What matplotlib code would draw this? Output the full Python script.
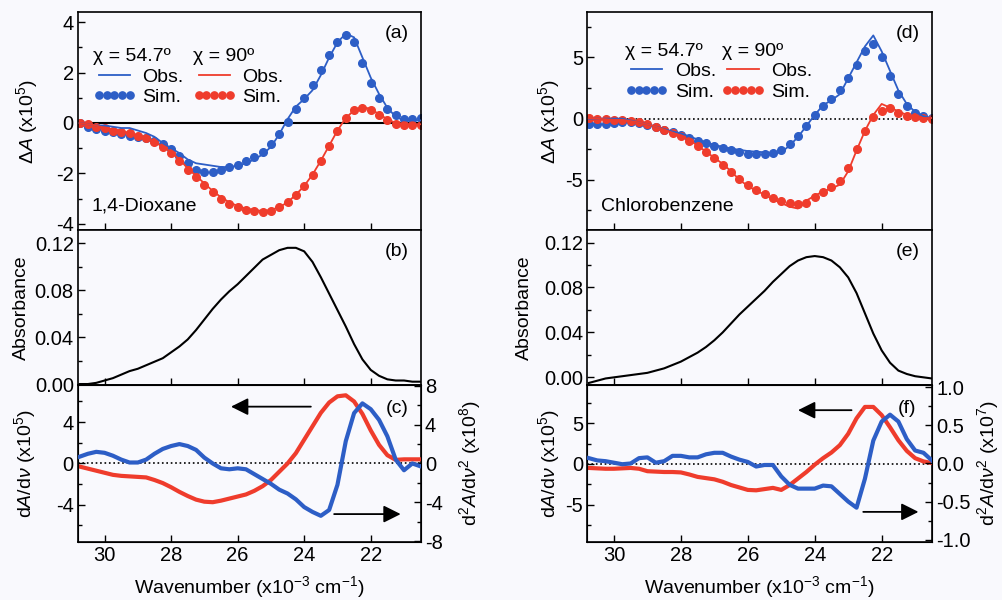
import matplotlib
matplotlib.use("Agg")
import matplotlib.pyplot as plt
from matplotlib.ticker import MultipleLocator, AutoMinorLocator, FormatStrFormatter

plt.rcParams["font.family"] = ["Liberation Sans", "DejaVu Sans"]
plt.rcParams["mathtext.fontset"] = "custom"
plt.rcParams["mathtext.rm"] = "Liberation Sans"
plt.rcParams["mathtext.it"] = "Liberation Sans:italic"
plt.rcParams["axes.unicode_minus"] = False

BLUE = "#2d5ec6"
RED = "#ef3c2c"
BG = "#f9f9fd"

# wavenumber grid (x10^3 cm^-1)
wn = [30.75, 30.5, 30.25, 30.0, 29.75, 29.5, 29.25, 29.0, 28.75, 28.5, 28.25,
      28.0, 27.75, 27.5, 27.25, 27.0, 26.75, 26.5, 26.25, 26.0, 25.75, 25.5,
      25.25, 25.0, 24.75, 24.5, 24.25, 24.0, 23.75, 23.5, 23.25, 23.0, 22.75,
      22.5, 22.25, 22.0, 21.75, 21.5, 21.25, 21.0, 20.75, 20.5]

# (a) 1,4-Dioxane, dA x10^5
diox_obs_547 = [0.0, -0.05, -0.1, -0.1, -0.15, -0.2, -0.2, -0.3, -0.4, -0.55, -0.8,
                -1.0, -1.2, -1.45, -1.6, -1.65, -1.7, -1.75, -1.75, -1.7, -1.6, -1.45,
                -1.25, -0.95, -0.45, 0.15, 0.65, 0.95, 1.3, 1.9, 2.6, 3.2, 3.55,
                3.4, 2.6, 1.8, 1.15, 0.6, 0.25, 0.1, 0.1, 0.1]
diox_sim_547 = [0.0, -0.15, -0.25, -0.3, -0.35, -0.45, -0.5, -0.55, -0.6, -0.7, -0.85,
                -1.05, -1.3, -1.6, -1.85, -1.95, -1.95, -1.85, -1.75, -1.65, -1.5, -1.35,
                -1.15, -0.85, -0.45, 0.05, 0.55, 1.0, 1.5, 2.1, 2.7, 3.2, 3.5,
                3.2, 2.4, 1.6, 1.0, 0.55, 0.3, 0.15, 0.15, 0.2]
diox_obs_90 = [0.0, -0.05, -0.1, -0.2, -0.25, -0.3, -0.4, -0.5, -0.6, -0.75, -0.95,
               -1.15, -1.45, -1.8, -2.1, -2.4, -2.7, -2.95, -3.15, -3.3, -3.4, -3.45,
               -3.5, -3.45, -3.35, -3.15, -2.85, -2.5, -2.05, -1.5, -0.9, -0.3, 0.2,
               0.5, 0.65, 0.55, 0.35, 0.15, 0.0, -0.05, -0.05, -0.05]
diox_sim_90 = [0.0, -0.05, -0.15, -0.2, -0.3, -0.35, -0.4, -0.5, -0.6, -0.75, -0.95,
               -1.2, -1.5, -1.85, -2.15, -2.45, -2.75, -3.0, -3.2, -3.35, -3.45, -3.5,
               -3.55, -3.5, -3.35, -3.15, -2.85, -2.5, -2.05, -1.5, -0.9, -0.3, 0.2,
               0.5, 0.6, 0.5, 0.3, 0.1, -0.05, -0.1, -0.1, -0.1]

# (b) absorbance 1,4-Dioxane
diox_abs = [0.0, 0.0, 0.001, 0.003, 0.005, 0.008, 0.011, 0.013, 0.016, 0.019, 0.022,
            0.027, 0.032, 0.038, 0.046, 0.055, 0.064, 0.072, 0.079, 0.085, 0.092, 0.099,
            0.106, 0.110, 0.114, 0.116, 0.116, 0.113, 0.104, 0.091, 0.077, 0.063, 0.049,
            0.034, 0.021, 0.012, 0.007, 0.004, 0.003, 0.003, 0.002, 0.002]

# (c) derivatives 1,4-Dioxane
diox_d1 = [-0.3, -0.5, -0.7, -0.9, -1.1, -1.2, -1.25, -1.3, -1.35, -1.6, -1.9,
           -2.3, -2.75, -3.15, -3.5, -3.7, -3.75, -3.6, -3.4, -3.2, -3.0, -2.65,
           -2.2, -1.6, -0.8, 0.0, 1.0, 2.3, 3.6, 4.9, 5.9, 6.5, 6.6,
           6.0, 4.8, 3.2, 1.8, 0.8, 0.35, 0.4, 0.4, 0.4]
diox_d2 = [0.7, 1.0, 1.2, 1.1, 0.8, 0.4, 0.1, 0.1, 0.4, 1.0, 1.5,
           1.8, 2.0, 1.8, 1.4, 0.6, 0.0, -0.5, -0.6, -0.5, -0.6, -1.1,
           -1.6, -2.1, -2.7, -3.1, -3.7, -4.5, -5.0, -5.4, -4.8, -2.2, 2.3,
           5.2, 6.2, 5.6, 4.5, 2.8, 0.4, -0.7, 0.0, -0.3]

# (d) Chlorobenzene, dA x10^5
chlo_obs_547 = [0.0, 0.0, 0.0, 0.0, 0.0, -0.15, -0.3, -0.45, -0.65, -0.85, -1.05,
                -1.2, -1.45, -1.7, -1.95, -2.15, -2.3, -2.45, -2.55, -2.65, -2.7, -2.75,
                -2.8, -2.75, -2.2, -1.5, -0.6, 0.3, 1.1, 1.5, 2.0, 3.3, 4.6,
                5.9, 6.8, 5.5, 3.9, 2.3, 1.2, 0.55, 0.2, 0.05]
chlo_sim_547 = [-0.45, -0.45, -0.4, -0.35, -0.3, -0.3, -0.35, -0.5, -0.7, -0.9, -1.1,
                -1.3, -1.55, -1.8, -2.0, -2.2, -2.4, -2.6, -2.75, -2.85, -2.9, -2.85,
                -2.8, -2.6, -2.1, -1.4, -0.6, 0.3, 1.0, 1.6, 2.3, 3.3, 4.4,
                5.5, 6.1, 5.0, 3.5, 2.0, 1.0, 0.5, 0.2, 0.05]
chlo_obs_90 = [0.05, 0.0, -0.05, -0.1, -0.1, -0.2, -0.3, -0.45, -0.65, -0.9, -1.15,
               -1.4, -1.75, -2.2, -2.7, -3.2, -3.7, -4.3, -5.0, -5.5, -5.9, -6.2,
               -6.6, -6.9, -7.2, -7.35, -6.7, -6.3, -5.95, -5.7, -5.4, -4.3, -2.6,
               -1.0, 0.3, 1.2, 0.9, 0.6, 0.3, 0.1, 0.05, 0.05]
chlo_sim_90 = [0.05, 0.0, -0.05, -0.1, -0.15, -0.2, -0.3, -0.45, -0.65, -0.9, -1.15,
               -1.45, -1.8, -2.25, -2.75, -3.25, -3.75, -4.35, -4.95, -5.45, -5.85, -6.2,
               -6.5, -6.75, -6.9, -6.95, -6.9, -6.4, -6.0, -5.6, -5.1, -4.0, -2.5,
               -1.0, 0.1, 0.6, 0.9, 0.5, 0.2, 0.1, 0.05, 0.0]

# (e) absorbance Chlorobenzene
chlo_abs = [-0.005, -0.003, -0.001, 0.0, 0.001, 0.002, 0.003, 0.004, 0.006, 0.008, 0.011,
            0.014, 0.018, 0.022, 0.027, 0.033, 0.040, 0.048, 0.056, 0.063, 0.070, 0.077,
            0.085, 0.092, 0.099, 0.104, 0.107, 0.108, 0.107, 0.104, 0.098, 0.089, 0.075,
            0.057, 0.039, 0.024, 0.013, 0.006, 0.003, 0.001, 0.0, -0.001]

# (f) derivatives Chlorobenzene
chlo_d1 = [-0.5, -0.55, -0.6, -0.6, -0.55, -0.5, -0.6, -0.9, -0.95, -1.0, -1.0,
           -1.05, -1.3, -1.6, -1.75, -1.9, -2.2, -2.6, -2.9, -3.2, -3.25, -3.1,
           -2.95, -3.2, -2.6, -1.8, -1.0, -0.1, 0.7, 1.4, 2.3, 3.7, 5.6,
           7.0, 7.0, 6.0, 4.5, 2.9, 1.6, 0.7, 0.3, 0.1]
chlo_d2 = [0.07, 0.04, 0.03, 0.01, -0.01, 0.0, 0.07, 0.08, 0.01, 0.03, 0.1,
           0.1, 0.08, 0.08, 0.12, 0.14, 0.14, 0.09, 0.05, 0.02, -0.04, -0.02,
           -0.02, -0.17, -0.28, -0.33, -0.33, -0.33, -0.29, -0.3, -0.4, -0.5, -0.58,
           -0.2, 0.3, 0.55, 0.64, 0.55, 0.32, 0.17, 0.14, 0.04]

XLIM = (30.8, 20.5)
FS = 14.5   # tick labels
LFS = 14    # axis labels
TFS = 14    # legend / annotations

fig = plt.figure(figsize=(10.02, 6.0), dpi=100, facecolor=BG)

left_x, right_x = 0.0778, 0.586
w_left, w_right = 0.342, 0.344
rows = [(0.6167, 0.363), (0.358, 0.2583), (0.0967, 0.2617)]


def style(ax, ymajor, fmt=None):
    ax.set_facecolor(BG)
    ax.set_xlim(*XLIM)
    ax.xaxis.set_major_locator(MultipleLocator(2))
    ax.yaxis.set_major_locator(MultipleLocator(ymajor))
    ax.yaxis.set_minor_locator(AutoMinorLocator(2))
    if fmt:
        ax.yaxis.set_major_formatter(FormatStrFormatter(fmt))
    ax.tick_params(which="both", direction="in", top=False, right=False,
                   labelsize=FS, width=1.0, pad=3)
    ax.tick_params(which="major", length=5)
    ax.tick_params(which="minor", length=3)
    for s in ax.spines.values():
        s.set_linewidth(1.2)


def delta_panel(ax, o547, s547, o90, s90, ylim, ymajor, zero_ls, name, tag,
                leg_pos):
    style(ax, ymajor)
    ax.set_ylim(*ylim)
    if zero_ls == "-":
        ax.axhline(0, color="k", lw=1.5, zorder=1)
    else:
        ax.axhline(0, color="k", lw=1.2, ls=":", zorder=1)
    hb1, = ax.plot(wn, o547, color=BLUE, lw=1.3, zorder=3)
    hb2, = ax.plot(wn, s547, ls="none", marker="o", ms=5.5, color=BLUE, zorder=2)
    hr1, = ax.plot(wn, o90, color=RED, lw=1.3, zorder=3)
    hr2, = ax.plot(wn, s90, ls="none", marker="o", ms=5.5, color=RED, zorder=2)
    kw = dict(loc="upper left", frameon=False, numpoints=5, handlelength=2.2,
              alignment="left", fontsize=TFS, title_fontsize=TFS,
              handletextpad=0.35, borderpad=0, borderaxespad=0,
              labelspacing=0.15, markerscale=0.95)
    l1 = ax.legend([hb1, hb2], ["Obs.", "Sim."], title="χ = 54.7º",
                   bbox_to_anchor=leg_pos[0], **kw)
    ax.add_artist(l1)
    ax.legend([hr1, hr2], ["Obs.", "Sim."], title="χ = 90º",
              bbox_to_anchor=leg_pos[1], **kw)
    ax.text(0.04, 0.11, name, transform=ax.transAxes, fontsize=TFS,
            va="center", ha="left")
    ax.text(0.965, 0.9, tag, transform=ax.transAxes, fontsize=TFS,
            va="center", ha="right")
    ax.set_ylabel(r"$\Delta$$A$ (x10$^5$)", fontsize=LFS)
    ax.tick_params(labelbottom=False)


def abs_panel(ax, vals, ylim, tag):
    style(ax, 0.04, "%.2f")
    ax.set_ylim(*ylim)
    ax.plot(wn, vals, color="k", lw=1.5)
    ax.text(0.965, 0.86, tag, transform=ax.transAxes, fontsize=TFS,
            va="center", ha="right")
    ax.set_ylabel("Absorbance", fontsize=LFS)
    ax.tick_params(labelbottom=False)


def deriv_panel(ax, d1, d2, ylim, ylim2, lmajor, rmajor, rfmt, rexp, tag,
                arr1, arr2, tag_x):
    style(ax, lmajor)
    ax.set_ylim(*ylim)
    ax.axhline(0, color="k", lw=1.2, ls=":", zorder=1)
    ax.plot(wn, d1, color=RED, lw=3.0, zorder=3)
    ax2 = ax.twinx()
    ax2.set_ylim(*ylim2)
    ax2.yaxis.set_major_locator(MultipleLocator(rmajor))
    ax2.yaxis.set_minor_locator(AutoMinorLocator(2))
    if rfmt:
        ax2.yaxis.set_major_formatter(FormatStrFormatter(rfmt))
    ax2.tick_params(which="both", direction="in", labelsize=FS, width=1.0, pad=3)
    ax2.tick_params(which="major", length=5)
    ax2.tick_params(which="minor", length=3)
    ax2.plot(wn, d2, color=BLUE, lw=3.0, zorder=3)
    for a in (arr1, arr2):
        ax.annotate("", xy=a[1], xytext=a[0],
                    arrowprops=dict(arrowstyle="-|>", color="k", lw=1.3,
                                    mutation_scale=26, shrinkA=0, shrinkB=0))
    ax.text(tag_x, 0.85, tag, transform=ax.transAxes, fontsize=TFS,
            va="center", ha="right", zorder=5)
    ax.set_ylabel(r"d$A$/d$\nu$ (x10$^5$)", fontsize=LFS)
    ax2.set_ylabel(r"d$^2$$A$/d$\nu^2$ (x10$^{%d}$)" % rexp, fontsize=LFS)
    ax.set_xlabel(r"Wavenumber (x10$^{-3}$ cm$^{-1}$)", fontsize=LFS)
    ax.xaxis.set_label_coords(0.5, -0.205)
    return ax2


# left column: 1,4-Dioxane
axa = fig.add_axes([left_x, rows[0][0], w_left, rows[0][1]])
axb = fig.add_axes([left_x, rows[1][0], w_left, rows[1][1]])
axc = fig.add_axes([left_x, rows[2][0], w_left, rows[2][1]])
delta_panel(axa, diox_obs_547, diox_sim_547, diox_obs_90, diox_sim_90,
            (-4.25, 4.4), 2, "-", "1,4-Dioxane", "(a)",
            [(0.044, 0.835), (0.335, 0.835)])
abs_panel(axb, diox_abs, (-0.001, 0.131), "(b)")
axc2 = deriv_panel(axc, diox_d1, diox_d2, (-7.6, 7.6), (-8.1, 8.1), 4, 4, None, 8,
                   "(c)", [(23.8, 5.5), (26.2, 5.5)], [(23.1, -4.9), (21.1, -4.9)],
                   0.965)

# right column: Chlorobenzene
axd = fig.add_axes([right_x, rows[0][0], w_right, rows[0][1]])
axe = fig.add_axes([right_x, rows[1][0], w_right, rows[1][1]])
axf = fig.add_axes([right_x, rows[2][0], w_right, rows[2][1]])
delta_panel(axd, chlo_obs_547, chlo_sim_547, chlo_obs_90, chlo_sim_90,
            (-9.1, 8.7), 5, ":", "Chlorobenzene", "(d)",
            [(0.11, 0.86), (0.39, 0.86)])
abs_panel(axe, chlo_abs, (-0.007, 0.131), "(e)")
axf2 = deriv_panel(axf, chlo_d1, chlo_d2, (-9.6, 9.7), (-1.03, 1.03), 5, 0.5, "%.1f", 7,
                   "(f)", [(22.9, 6.6), (24.5, 6.6)], [(22.55, -5.9), (20.9, -5.9)],
                   0.955)

# label positions
axa.yaxis.set_label_coords(-0.112, 0.5)
axb.yaxis.set_label_coords(-0.14, 0.5)
axc.yaxis.set_label_coords(-0.117, 0.5)
axc2.yaxis.set_label_coords(1.105, 0.5)
axd.yaxis.set_label_coords(-0.072, 0.5)
axe.yaxis.set_label_coords(-0.157, 0.5)
axf.yaxis.set_label_coords(-0.072, 0.5)
axf2.yaxis.set_label_coords(1.125, 0.5)

fig.savefig("out.png", dpi=100, facecolor=BG)
